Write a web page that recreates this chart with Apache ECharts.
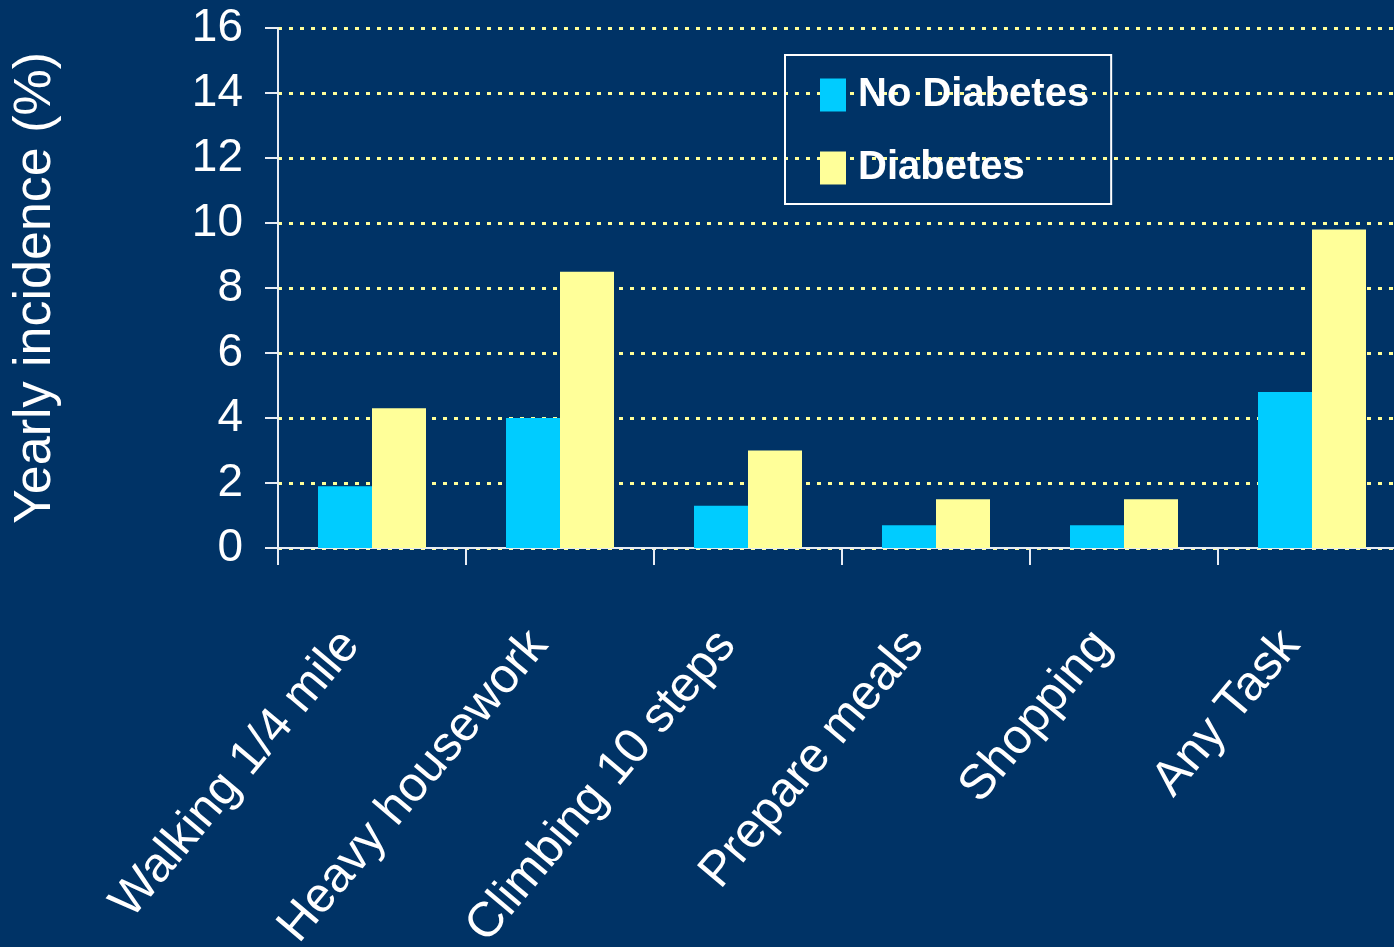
<!DOCTYPE html>
<html>
<head>
<meta charset="utf-8">
<script src="https://cdn.jsdelivr.net/npm/echarts@6/dist/echarts.min.js"></script>
<style>
html,body{margin:0;padding:0;background:#003366;}
#chart{width:1394px;height:947px;}
</style>
</head>
<body>
<div id="chart"></div>
<script>
const categories = ['Walking 1/4 mile', 'Heavy housework', 'Climbing 10 steps', 'Prepare meals', 'Shopping', 'Any Task'];
const noDiabetes = [1.9, 4.0, 1.3, 0.7, 0.7, 4.8];
const diabetes = [4.3, 8.5, 3.0, 1.5, 1.5, 9.8];
const seriesNames = ['No Diabetes', 'Diabetes'];
const yAxisTitle = 'Yearly incidence (%)';

const chart = echarts.init(document.getElementById('chart'), null, {renderer: 'canvas'});
const font = '"Liberation Sans", Arial, sans-serif';
chart.setOption({
  backgroundColor: '#003366',
  animation: false,
  grid: {left: 278, top: 28, right: -12, bottom: 399, containLabel: false, outerBoundsMode: 'none'},
  legend: {
    orient: 'vertical',
    left: 785, top: 55,
    borderColor: '#ffffff', borderWidth: 2,
    padding: [20, 22, 16, 35],
    itemWidth: 26, itemHeight: 33, itemGap: 33,
    icon: 'rect',
    textStyle: {color: '#ffffff', fontSize: 40, fontWeight: 'bold', fontFamily: font, padding: [0, 0, 0, 7]},
    data: seriesNames
  },
  xAxis: {
    type: 'category',
    data: categories,
    boundaryGap: true,
    axisLine: {show: true, lineStyle: {color: '#e8ecf4', width: 2}},
    axisTick: {show: true, length: 17, alignWithLabel: false, lineStyle: {color: '#e8ecf4', width: 2}},
    axisLabel: {color: '#ffffff', fontSize: 49, fontFamily: font, rotate: 50, margin: 64, padding: [0, 33, 0, 0], interval: 0},
    splitLine: {show: false}
  },
  yAxis: {
    type: 'value',
    min: 0, max: 16, interval: 2,
    name: yAxisTitle,
    nameLocation: 'middle',
    nameGap: 216,
    nameRotate: 90,
    nameTextStyle: {color: '#ffffff', fontSize: 52, fontFamily: font},
    axisLine: {show: true, lineStyle: {color: '#e8ecf4', width: 2}},
    axisTick: {show: true, length: 13, lineStyle: {color: '#e8ecf4', width: 2}},
    axisLabel: {color: '#ffffff', fontSize: 46, fontFamily: font, margin: 35},
    splitLine: {show: true, lineStyle: {color: '#ffff99', width: 3, type: [4, 7]}}
  },
  series: [
    {name: seriesNames[0], type: 'bar', data: noDiabetes, barWidth: 54, barGap: '0%', itemStyle: {color: '#00ccff'}},
    {name: seriesNames[1], type: 'bar', data: diabetes, barWidth: 54, barGap: '0%', itemStyle: {color: '#ffff99'}}
  ]
});
</script>
</body>
</html>
